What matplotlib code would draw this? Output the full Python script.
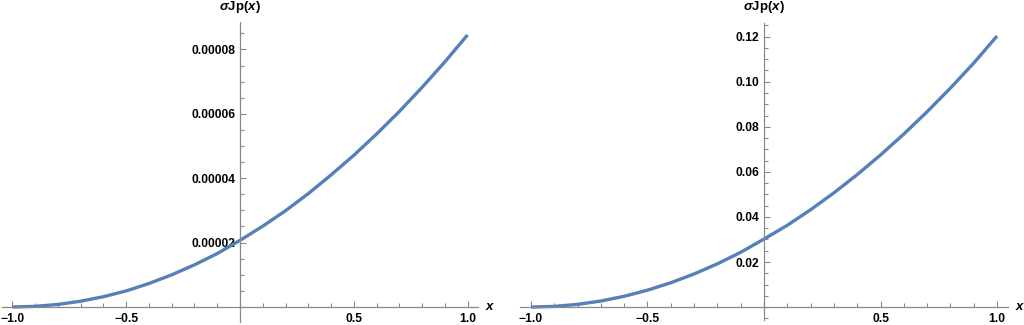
import numpy as np
import matplotlib
matplotlib.use("Agg")
import matplotlib.pyplot as plt
from matplotlib.ticker import MultipleLocator

plt.rcParams['font.family'] = ['Liberation Sans', 'DejaVu Sans']
plt.rcParams['font.weight'] = 'bold'
plt.rcParams['mathtext.fontset'] = 'custom'
plt.rcParams['mathtext.rm'] = 'Liberation Sans:bold'
plt.rcParams['mathtext.it'] = 'Liberation Sans:bold:italic'
plt.rcParams['mathtext.bf'] = 'Liberation Sans:bold'

# values, x from -1 to 1 in steps of 0.1
x_vals = [-1.0, -0.9, -0.8, -0.7, -0.6, -0.5, -0.4, -0.3, -0.2, -0.1, 0.0,
          0.1, 0.2, 0.3, 0.4, 0.5, 0.6, 0.7, 0.8, 0.9, 1.0]
left_vals = [0.0, 0.02e-5, 0.08e-5, 0.18e-5, 0.32e-5, 0.50e-5, 0.73e-5, 1.00e-5,
             1.31e-5, 1.66e-5, 2.07e-5, 2.51e-5, 2.99e-5, 3.52e-5, 4.10e-5,
             4.71e-5, 5.37e-5, 6.07e-5, 6.82e-5, 7.61e-5, 8.45e-5]
right_vals = [0.0, 0.0003, 0.0012, 0.0027, 0.0048, 0.0075, 0.0108, 0.0147,
              0.0192, 0.0243, 0.0302, 0.0363, 0.0432, 0.0507, 0.0588, 0.0675,
              0.0768, 0.0867, 0.0972, 0.1083, 0.1203]

x_ticks = [-1.0, -0.5, 0.5, 1.0]
x_labels = ['\u22121.0', '\u22120.5', '0.5', '1.0']
left_yticks = [0.00002, 0.00004, 0.00006, 0.00008]
left_ylabels = ['0.00002', '0.00004', '0.00006', '0.00008']
right_yticks = [0.02, 0.04, 0.06, 0.08, 0.10, 0.12]
right_ylabels = ['0.02', '0.04', '0.06', '0.08', '0.10', '0.12']

line_col = '#5580B8'
axis_col = '#8a8a8a'

W, H = 1024, 325
fig = plt.figure(figsize=(W / 100, H / 100), dpi=100)


def pix_axes(x0, x1, ytop, ybot):
    return fig.add_axes([x0 / W, 1 - ybot / H, (x1 - x0) / W, (ybot - ytop) / H])


def style(ax, xlim, ylim, yticks, ylabels, yminor):
    ax.set_xlim(*xlim)
    ax.set_ylim(*ylim)
    for s in ['top', 'right']:
        ax.spines[s].set_visible(False)
    ax.spines['left'].set_position(('data', 0))
    ax.spines['bottom'].set_position(('data', 0))
    for s in ['left', 'bottom']:
        ax.spines[s].set_color(axis_col)
        ax.spines[s].set_linewidth(0.9)
    ax.set_xticks(x_ticks, x_labels)
    ax.xaxis.set_minor_locator(MultipleLocator(0.1))
    ax.set_yticks(yticks, ylabels)
    ax.yaxis.set_minor_locator(MultipleLocator(yminor))
    ax.tick_params(which='both', direction='in', color=axis_col, width=0.8,
                   labelsize=8.7, labelcolor='black')
    ax.tick_params(which='major', length=4.5)
    ax.tick_params(which='minor', length=2.6)
    ax.tick_params(axis='x', pad=4.5)
    ax.tick_params(axis='y', pad=3.5)
    ax.patch.set_visible(False)
    ax.annotate('$x$', xy=(1, 0), xycoords=('axes fraction', 'data'),
                xytext=(9, 0), textcoords='offset points',
                ha='center', va='center', fontsize=9.5)
    ax.annotate(r'$\sigma\mathrm{Jp}(x)$', xy=(0, 1), xycoords=('data', 'axes fraction'),
                xytext=(0, 11), textcoords='offset points',
                ha='center', va='center', fontsize=9.5)


ax1 = pix_axes(2, 478, 22, 322)
ax1.plot(x_vals, left_vals, color=line_col, lw=2.4, solid_capstyle='butt', clip_on=False)
style(ax1, (-1.046, 1.046), (-4.66e-6, 8.851e-5), left_yticks, left_ylabels, 0.000005)

ax2 = pix_axes(520, 1008, 22.7, 320.2)
ax2.plot(x_vals, right_vals, color=line_col, lw=2.4, solid_capstyle='butt', clip_on=False)
style(ax2, (-1.047, 1.047), (-0.00582, 0.1262), right_yticks, right_ylabels, 0.005)

fig.savefig('out.png', dpi=100)
